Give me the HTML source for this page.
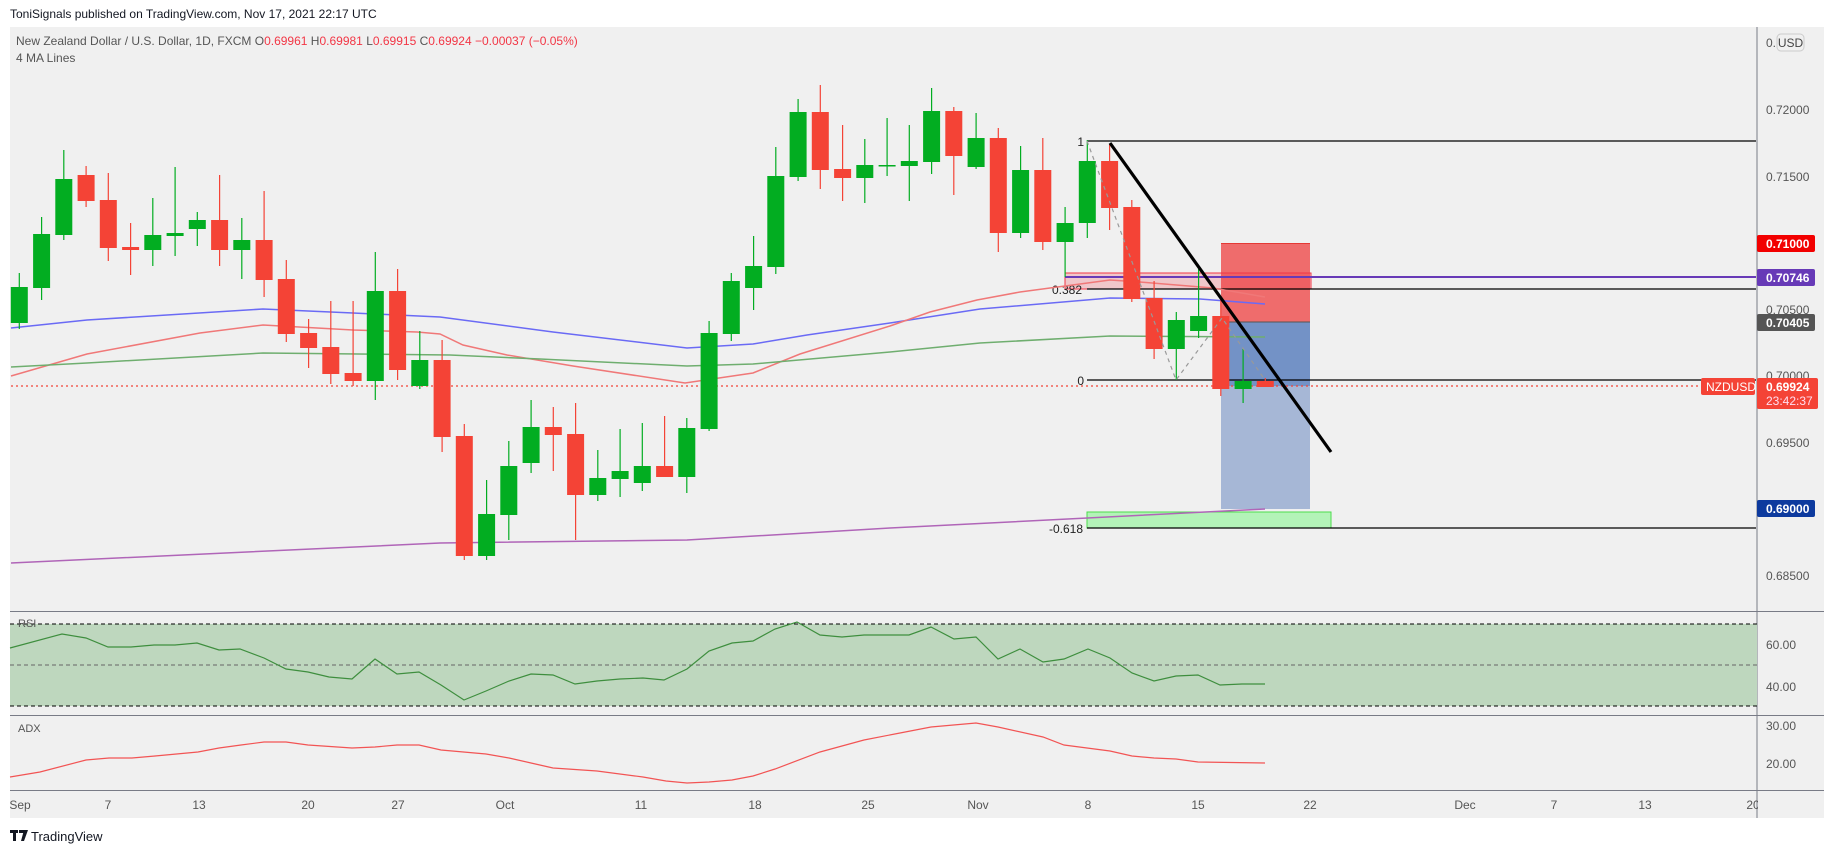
<!DOCTYPE html>
<html><head><meta charset="utf-8"><style>
html,body{margin:0;padding:0;background:#fff;width:1834px;height:853px;overflow:hidden}
svg{display:block;font-family:"Liberation Sans",sans-serif}
</style></head><body>
<svg width="1834" height="853" viewBox="0 0 1834 853" xmlns="http://www.w3.org/2000/svg">
<rect x="0" y="0" width="1834" height="853" fill="#fff"/>
<text x="10" y="18" font-size="12" fill="#131722">ToniSignals published on TradingView.com, Nov 17, 2021 22:17 UTC</text>
<rect x="10" y="27" width="1814" height="791" fill="#f0f0f0"/>
<text x="16" y="45" font-size="12" fill="#555">New Zealand Dollar / U.S. Dollar, 1D, FXCM  O<tspan fill="#f23645">0.69961</tspan>  H<tspan fill="#f23645">0.69981</tspan>  L<tspan fill="#f23645">0.69915</tspan>  C<tspan fill="#f23645">0.69924</tspan>  <tspan fill="#f23645">−0.00037 (−0.05%)</tspan></text>
<text x="16" y="62" font-size="12" fill="#555">4 MA Lines</text>

<rect x="1221" y="243" width="89" height="79" fill="#ef6c6c"/>
<line x1="1221" y1="243.5" x2="1310" y2="243.5" stroke="#e53935" stroke-width="1"/>
<rect x="1221" y="322" width="89" height="64" fill="#7392c6"/>
<rect x="1221" y="386" width="89" height="123" fill="#a6b7d6"/>
<line x1="1221" y1="322" x2="1310" y2="322" stroke="#555" stroke-width="1"/>
<rect x="1065" y="273" width="246" height="16" fill="rgba(242,54,69,0.22)" stroke="#f23645" stroke-width="1"/>
<rect x="1087" y="512" width="244" height="16" fill="#b3f3b8" stroke="#4cdd4c" stroke-width="1"/>

<g stroke="#000" stroke-width="1.3">
<line x1="1087" y1="141" x2="1756" y2="141"/>
<line x1="1087" y1="289" x2="1756" y2="289"/>
<line x1="1087" y1="380" x2="1756" y2="380"/>
<line x1="1087" y1="528" x2="1756" y2="528"/>
</g>
<g font-size="12" fill="#222" text-anchor="end">
<text x="1084" y="146">1</text>
<text x="1082" y="294">0.382</text>
<text x="1084" y="385">0</text>
<text x="1083" y="533">-0.618</text>
</g>
<line x1="1065" y1="277" x2="1756" y2="277" stroke="#673ab7" stroke-width="2"/>

<g fill="none" stroke-width="1.5">
<polyline stroke="#6a6af5" points="11,328 87,320 263,309 353,313 440,317 553,332 687,348 753,344 807,335 890,323 980,309 1110,298 1200,299 1265,304"/>
<polyline stroke="#f07878" points="11,376 87,354 200,333 263,325 353,330 417,332 440,334 463,345 507,355 573,366 685,383 753,373 800,354 890,326 930,312 977,300 1020,292 1110,280 1140,282 1213,288 1265,297"/>
<polyline stroke="#6fae6f" points="11,367 87,363 263,353 450,355 540,359 687,366 753,364 890,352 980,343 1110,336 1265,337"/>
<polyline stroke="#b065b8" points="11,563 440,543 687,540 890,528 1265,509"/>
</g>
<line x1="11" y1="386" x2="1700" y2="386" stroke="#f44336" stroke-width="1.2" stroke-dasharray="2,3"/>

<g stroke-width="1.2">
<g fill="#02ad21" stroke="#02ad21">
<line x1="19.3" y1="273" x2="19.3" y2="329"/><rect x="10.8" y="287" width="17" height="36" stroke="none"/>
<line x1="41.6" y1="217" x2="41.6" y2="300"/><rect x="33.1" y="234" width="17" height="54" stroke="none"/>
<line x1="63.8" y1="150" x2="63.8" y2="240"/><rect x="55.3" y="179" width="17" height="56" stroke="none"/>
<line x1="152.8" y1="198" x2="152.8" y2="266"/><rect x="144.3" y="235" width="17" height="15" stroke="none"/>
<line x1="175.1" y1="167" x2="175.1" y2="256"/><rect x="166.6" y="233" width="17" height="3" stroke="none"/>
<line x1="197.3" y1="212" x2="197.3" y2="246"/><rect x="188.8" y="220" width="17" height="9" stroke="none"/>
<line x1="241.8" y1="218" x2="241.8" y2="279"/><rect x="233.3" y="240" width="17" height="10" stroke="none"/>
<line x1="375.3" y1="252" x2="375.3" y2="400"/><rect x="366.8" y="291" width="17" height="90" stroke="none"/>
<line x1="419.8" y1="331" x2="419.8" y2="389"/><rect x="411.3" y="360" width="17" height="26" stroke="none"/>
<line x1="486.6" y1="480" x2="486.6" y2="560"/><rect x="478.1" y="514" width="17" height="42" stroke="none"/>
<line x1="508.8" y1="441" x2="508.8" y2="540"/><rect x="500.3" y="466" width="17" height="49" stroke="none"/>
<line x1="531.1" y1="400" x2="531.1" y2="473"/><rect x="522.6" y="427" width="17" height="36" stroke="none"/>
<line x1="597.8" y1="450" x2="597.8" y2="501"/><rect x="589.3" y="478" width="17" height="17" stroke="none"/>
<line x1="620.1" y1="429" x2="620.1" y2="497"/><rect x="611.6" y="471" width="17" height="8" stroke="none"/>
<line x1="642.3" y1="423" x2="642.3" y2="491"/><rect x="633.8" y="466" width="17" height="17" stroke="none"/>
<line x1="686.8" y1="418" x2="686.8" y2="493"/><rect x="678.3" y="428" width="17" height="49" stroke="none"/>
<line x1="709.1" y1="321" x2="709.1" y2="431"/><rect x="700.6" y="333" width="17" height="96" stroke="none"/>
<line x1="731.3" y1="273" x2="731.3" y2="341"/><rect x="722.8" y="281" width="17" height="53" stroke="none"/>
<line x1="753.6" y1="236" x2="753.6" y2="310"/><rect x="745.1" y="266" width="17" height="22" stroke="none"/>
<line x1="775.8" y1="147" x2="775.8" y2="274"/><rect x="767.3" y="176" width="17" height="91" stroke="none"/>
<line x1="798.1" y1="99" x2="798.1" y2="181"/><rect x="789.6" y="112" width="17" height="65" stroke="none"/>
<line x1="864.8" y1="139" x2="864.8" y2="203"/><rect x="856.3" y="165" width="17" height="13" stroke="none"/>
<line x1="887.1" y1="118" x2="887.1" y2="176"/><rect x="878.6" y="165" width="17" height="1.5" stroke="none"/>
<line x1="909.3" y1="125" x2="909.3" y2="201"/><rect x="900.8" y="161" width="17" height="5" stroke="none"/>
<line x1="931.6" y1="88" x2="931.6" y2="174"/><rect x="923.1" y="111" width="17" height="51" stroke="none"/>
<line x1="976.1" y1="113" x2="976.1" y2="169"/><rect x="967.6" y="138" width="17" height="29" stroke="none"/>
<line x1="1020.6" y1="146" x2="1020.6" y2="238"/><rect x="1012.1" y="170" width="17" height="63" stroke="none"/>
<line x1="1065.1" y1="207" x2="1065.1" y2="277"/><rect x="1056.6" y="223" width="17" height="19" stroke="none"/>
<line x1="1087.3" y1="140" x2="1087.3" y2="238"/><rect x="1078.8" y="161" width="17" height="62" stroke="none"/>
<line x1="1176.3" y1="312" x2="1176.3" y2="380"/><rect x="1167.8" y="320" width="17" height="29" stroke="none"/>
<line x1="1198.6" y1="269" x2="1198.6" y2="338"/><rect x="1190.1" y="316" width="17" height="15" stroke="none"/>
<line x1="1243.1" y1="349" x2="1243.1" y2="403"/><rect x="1234.6" y="381" width="17" height="8" stroke="none"/>
</g>
<g fill="#f44336" stroke="#f44336">
<line x1="86.1" y1="166" x2="86.1" y2="207"/><rect x="77.6" y="175" width="17" height="26" stroke="none"/>
<line x1="108.3" y1="173" x2="108.3" y2="261"/><rect x="99.8" y="200" width="17" height="48" stroke="none"/>
<line x1="130.6" y1="223" x2="130.6" y2="275"/><rect x="122.1" y="247" width="17" height="3" stroke="none"/>
<line x1="219.6" y1="175" x2="219.6" y2="266"/><rect x="211.1" y="220" width="17" height="30" stroke="none"/>
<line x1="264.1" y1="191" x2="264.1" y2="297"/><rect x="255.6" y="240" width="17" height="40" stroke="none"/>
<line x1="286.3" y1="260" x2="286.3" y2="342"/><rect x="277.8" y="279" width="17" height="55" stroke="none"/>
<line x1="308.6" y1="319" x2="308.6" y2="368"/><rect x="300.1" y="333" width="17" height="15" stroke="none"/>
<line x1="330.8" y1="301" x2="330.8" y2="384"/><rect x="322.3" y="347" width="17" height="27" stroke="none"/>
<line x1="353.1" y1="301" x2="353.1" y2="386"/><rect x="344.6" y="373" width="17" height="8" stroke="none"/>
<line x1="397.6" y1="269" x2="397.6" y2="380"/><rect x="389.1" y="291" width="17" height="79" stroke="none"/>
<line x1="442.1" y1="340" x2="442.1" y2="452"/><rect x="433.6" y="360" width="17" height="77" stroke="none"/>
<line x1="464.3" y1="424" x2="464.3" y2="560"/><rect x="455.8" y="436" width="17" height="120" stroke="none"/>
<line x1="553.3" y1="407" x2="553.3" y2="471"/><rect x="544.8" y="427" width="17" height="8" stroke="none"/>
<line x1="575.6" y1="403" x2="575.6" y2="540"/><rect x="567.1" y="434" width="17" height="61" stroke="none"/>
<line x1="664.6" y1="416" x2="664.6" y2="477"/><rect x="656.1" y="466" width="17" height="11" stroke="none"/>
<line x1="820.3" y1="85" x2="820.3" y2="189"/><rect x="811.8" y="112" width="17" height="58" stroke="none"/>
<line x1="842.6" y1="125" x2="842.6" y2="201"/><rect x="834.1" y="169" width="17" height="9" stroke="none"/>
<line x1="953.8" y1="107" x2="953.8" y2="195"/><rect x="945.3" y="111" width="17" height="45" stroke="none"/>
<line x1="998.3" y1="128" x2="998.3" y2="252"/><rect x="989.8" y="138" width="17" height="95" stroke="none"/>
<line x1="1042.8" y1="138" x2="1042.8" y2="250"/><rect x="1034.3" y="170" width="17" height="72" stroke="none"/>
<line x1="1109.6" y1="144" x2="1109.6" y2="230"/><rect x="1101.1" y="161" width="17" height="47" stroke="none"/>
<line x1="1131.8" y1="200" x2="1131.8" y2="302"/><rect x="1123.3" y="207" width="17" height="92" stroke="none"/>
<line x1="1154.1" y1="281" x2="1154.1" y2="359"/><rect x="1145.6" y="298" width="17" height="51" stroke="none"/>
<line x1="1220.8" y1="297" x2="1220.8" y2="396"/><rect x="1212.3" y="316" width="17" height="73" stroke="none"/>
<line x1="1265.3" y1="378" x2="1265.3" y2="387"/><rect x="1256.8" y="381" width="17" height="6" stroke="none"/>
</g>
</g>

<polyline points="1087,141 1176,380 1222,318 1265,380" fill="none" stroke="#999" stroke-width="1.2" stroke-dasharray="4,4"/>
<line x1="1110" y1="143" x2="1331" y2="452" stroke="#000" stroke-width="3.2"/>

<g stroke="#787b86" stroke-width="1">
<line x1="10" y1="611.5" x2="1824" y2="611.5"/>
<line x1="10" y1="715.5" x2="1824" y2="715.5"/>
<line x1="10" y1="790.5" x2="1824" y2="790.5"/>
<line x1="1757" y1="27" x2="1757" y2="818"/>
</g>

<rect x="10" y="624" width="1747" height="82" fill="#bed7be"/>
<line x1="10" y1="624" x2="1757" y2="624" stroke="#000" stroke-dasharray="4,3"/>
<line x1="10" y1="706" x2="1757" y2="706" stroke="#000" stroke-dasharray="4,3"/>
<line x1="10" y1="665" x2="1757" y2="665" stroke="#666" stroke-dasharray="4,3"/>
<text x="18" y="627" font-size="11" fill="#555">RSI</text>
<polyline fill="none" stroke="#3e8e3e" stroke-width="1.2" points="10,648 62,634 86,638 108,647 131,647 154,645 175,645 197,643 219,650 240,649 264,658 286,669 308,672 329,677 352,679 375,659 397,674 419,672 441,685 464,700 486,691 509,681 531,674 553,675 575,684 597,681 620,679 643,678 664,680 687,669 709,651 732,643 753,641 775,629 797,622 820,635 842,637 864,635 909,635 931,627 954,639 976,637 998,659 1020,649 1043,662 1064,659 1088,649 1110,658 1132,673 1154,681 1176,676 1198,675 1220,685 1242,684 1265,684"/>
<text x="18" y="732" font-size="11" fill="#555">ADX</text>
<polyline fill="none" stroke="#f25454" stroke-width="1.2" points="10,777 40,772 86,760 109,758 132,758 155,756 198,752 219,748 241,745 264,742 286,742 308,745 352,748 375,747 397,745 419,745 441,750 486,754 509,758 531,763 553,768 597,771 643,777 666,781 687,783 709,782 732,780 753,776 775,769 820,752 864,740 900,733 931,727 976,723 998,727 1043,737 1064,745 1110,751 1132,756 1154,758 1176,759 1198,762 1265,763"/>

<g font-size="12" fill="#555">
<text x="1766" y="47">0.</text>
<text x="1766" y="114">0.72000</text>
<text x="1766" y="181">0.71500</text>
<text x="1766" y="314">0.70500</text>
<text x="1766" y="380">0.70000</text>
<text x="1766" y="447">0.69500</text>
<text x="1766" y="580">0.68500</text>
<text x="1766" y="649">60.00</text>
<text x="1766" y="691">40.00</text>
<text x="1766" y="730">30.00</text>
<text x="1766" y="768">20.00</text>
</g>
<rect x="1777" y="34" width="27" height="17" rx="4" fill="#f0f0f0" stroke="#ccc"/>
<text x="1790.5" y="47" font-size="12" fill="#444" text-anchor="middle">USD</text>
<g font-size="12" font-weight="bold" fill="#fff">
<rect x="1757" y="235" width="58" height="17" rx="2" fill="#f20000"/><text x="1766" y="248">0.71000</text>
<rect x="1757" y="269" width="58" height="17" rx="2" fill="#673ab7"/><text x="1766" y="282">0.70746</text>
<rect x="1757" y="314" width="58" height="17" rx="2" fill="#555"/><text x="1766" y="327">0.70405</text>
<rect x="1757" y="500" width="58" height="17" rx="2" fill="#0d3a9e"/><text x="1766" y="513">0.69000</text>
<rect x="1701" y="378" width="54" height="17" rx="2" fill="#f44336"/><text x="1706" y="391" font-weight="normal">NZDUSD</text>
<rect x="1757" y="378" width="61" height="31" rx="2" fill="#f44336"/><text x="1766" y="391">0.69924</text>
<text x="1766" y="405" font-weight="normal" fill="#fde">23:42:37</text>
</g>

<g font-size="12" fill="#555" text-anchor="middle">
<text x="20" y="809">Sep</text><text x="108" y="809">7</text><text x="199" y="809">13</text><text x="308" y="809">20</text><text x="398" y="809">27</text>
<text x="505" y="809">Oct</text><text x="641" y="809">11</text><text x="755" y="809">18</text><text x="868" y="809">25</text>
<text x="978" y="809">Nov</text><text x="1088" y="809">8</text><text x="1198" y="809">15</text><text x="1310" y="809">22</text>
<text x="1465" y="809">Dec</text><text x="1554" y="809">7</text><text x="1645" y="809">13</text><text x="1753" y="809">20</text>
</g>
<rect x="1758" y="791" width="66" height="27" fill="#f0f0f0"/>

<g fill="#131722"><rect x="10" y="830" width="8" height="3"/><rect x="13" y="830" width="3" height="11"/><rect x="19" y="830" width="5" height="3"/><path d="M24 830 h4 l-4 11 h-3z"/></g>
<text x="31" y="841" font-size="13" fill="#131722">TradingView</text>
</svg>
</body></html>
